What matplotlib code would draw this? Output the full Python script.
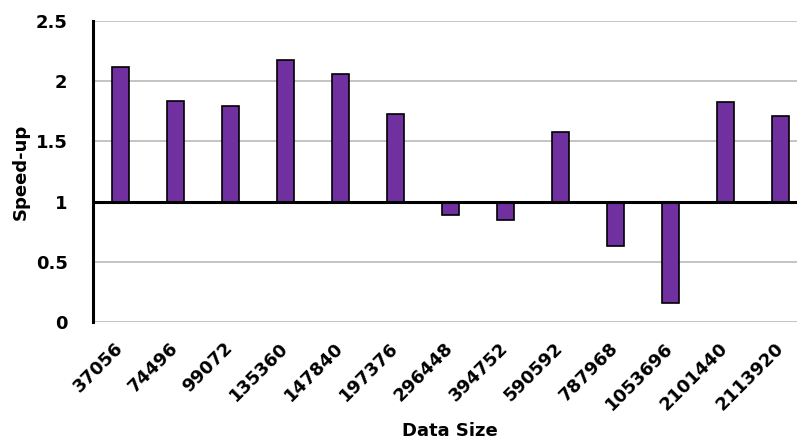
import matplotlib
matplotlib.use("Agg")
import matplotlib.pyplot as plt
import numpy as np

# data sizes and measured speed-up for each run
data_sizes = ["37056", "74496", "99072", "135360", "147840", "197376", "296448",
              "394752", "590592", "787968", "1053696", "2101440", "2113920"]
speedup = [2.12, 1.835, 1.79, 2.175, 2.06, 1.73, 0.89,
           0.845, 1.58, 0.63, 0.16, 1.823, 1.71]

baseline = 1.0
yticks = [0, 0.5, 1, 1.5, 2, 2.5]

plt.rcParams['font.family'] = ['DejaVu Sans']
plt.rcParams['font.weight'] = 'bold'

fig = plt.figure(figsize=(7.97, 4.46), dpi=100)
ax = fig.add_axes([0.1161, 0.278, 0.8977, 0.675])

x = np.arange(len(data_sizes))
heights = np.array(speedup) - baseline
ax.bar(x, heights, bottom=baseline, width=0.31, color='#7030A0',
       edgecolor='black', linewidth=1.2, zorder=3)

# bars grow from the 1.0 line, drawn as a heavy rule
ax.axhline(baseline, color='black', linewidth=2.2, zorder=4)

ax.set_xlim(-0.5, len(data_sizes) - 0.5)
ax.set_ylim(0, 2.5)
ax.set_yticks(yticks)
ax.set_yticklabels(["0", "0.5", "1", "1.5", "2", "2.5"])
ax.yaxis.grid(True, color='#BFBFBF', linewidth=1.3, zorder=0)
ax.set_axisbelow(True)

for side in ['top', 'right', 'bottom']:
    ax.spines[side].set_visible(False)
ax.spines['left'].set_linewidth(2.2)
ax.spines['left'].set_color('black')

ax.tick_params(axis='y', length=0, pad=18, labelsize=13)
ax.tick_params(axis='x', length=0, pad=17, labelsize=13)
ax.set_xticks(x)
ax.set_xticklabels(data_sizes, rotation=45, ha='right', va='center',
                   rotation_mode='anchor', fontweight='bold')

ax.set_ylabel("Speed-up", fontsize=13, fontweight='bold', labelpad=4)
ax.set_xlabel("Data Size", fontsize=13, fontweight='bold', labelpad=6)

fig.savefig("out.png", dpi=100)
